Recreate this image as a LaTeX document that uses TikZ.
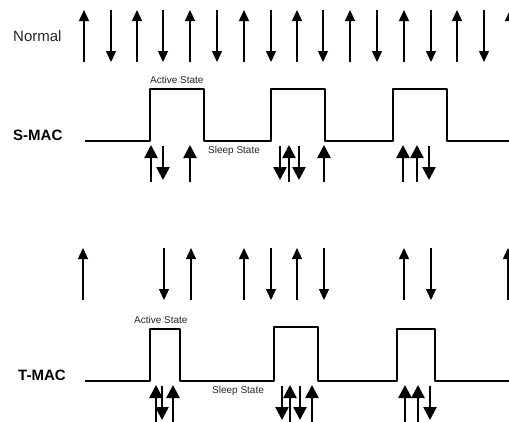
\documentclass[tikz,border=0pt]{standalone}
\usepackage{fontspec}
\setmainfont{Liberation Sans}
\usetikzlibrary{arrows.meta}
\begin{document}
\begin{tikzpicture}[x=1pt,y=-1pt,
  thinarr/.style={line width=1.3pt,-{Triangle[length=11pt,width=10pt]}},
  thickarr/.style={line width=2.4pt,-{Triangle[length=13pt,width=13pt]}},
  wave/.style={line width=2pt,line join=round},
  lbl/.style={font=\fontsize{15}{17}\selectfont,text=black!85,inner sep=0pt},
  blbl/.style={font=\bfseries\fontsize{15}{17}\selectfont,inner sep=0pt},
  small/.style={font=\fontsize{10}{12}\selectfont,text=black!85,inner sep=0pt}]
\useasboundingbox (0,0) rectangle (509,421);
% labels
\node[lbl,anchor=west] (normal) at (13,36) {Normal};
\node[blbl,anchor=west] (smac) at (13,135) {S-MAC};
\node[blbl,anchor=west] (tmac) at (18,375) {T-MAC};
% Normal arrows
\foreach \x in {84,137,190,244,297,350,404,457,510}
  \draw[thinarr] (\x,62) -- (\x,10);
\foreach \x in {111,163,217,271,323,377,431,484}
  \draw[thinarr] (\x,10) -- (\x,62);
% T-MAC upper arrows
\foreach \x in {83,191,244,297,404,508}
  \draw[thinarr] (\x,300) -- (\x,248);
\foreach \x in {164,271,324,431}
  \draw[thinarr] (\x,248) -- (\x,300);
% S-MAC waveform
\draw[wave] (85,140.7) -- (150,140.7) -- (150,89) -- (204,89) -- (204,140.7)
  -- (271,140.7) -- (271,89) -- (325,89) -- (325,140.7)
  -- (393,140.7) -- (393,89) -- (447,89) -- (447,140.7) -- (509,140.7);
\node[small,anchor=west] (sact) at (150,80) {Active State};
\node[small,anchor=west] (sslp) at (208,151) {Sleep State};
\foreach \x in {151,190,289,324,403,417}
  \draw[thickarr] (\x,182) -- (\x,145);
\foreach \x in {163,280,299,429}
  \draw[thickarr] (\x,146) -- (\x,180);
% T-MAC waveform
\draw[wave] (85,380.7) -- (150,380.7) -- (150,329) -- (180,329) -- (180,380.7)
  -- (274,380.7) -- (274,327) -- (318,327) -- (318,380.7)
  -- (397,380.7) -- (397,329) -- (435,329) -- (435,380.7) -- (509,380.7);
\node[small,anchor=west] (tact) at (134,320) {Active State};
\node[small,anchor=west] (tslp) at (212,391) {Sleep State};
\foreach \x in {156,173,290,312,405,418}
  \draw[thickarr] (\x,422) -- (\x,385);
\foreach \x in {162,282,300,430}
  \draw[thickarr] (\x,386) -- (\x,420);
\end{tikzpicture}
\end{document}
